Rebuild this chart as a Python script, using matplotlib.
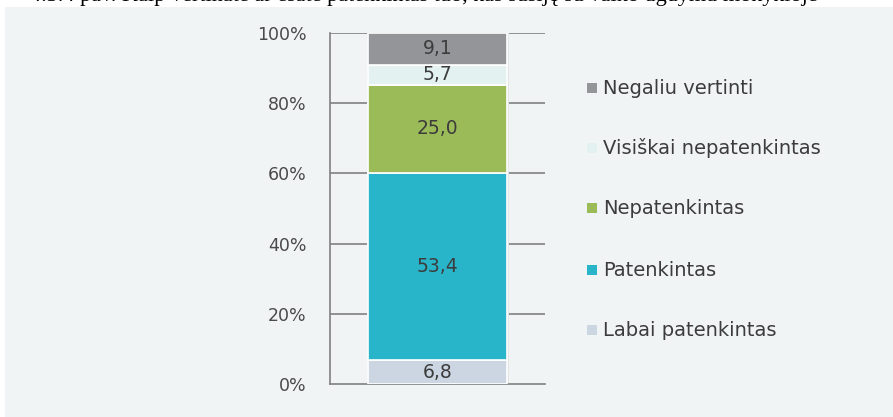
import matplotlib
matplotlib.use('Agg')
import matplotlib.pyplot as plt
from matplotlib.patches import Rectangle

# data (bottom -> top)
categories = ['Labai patenkintas', 'Patenkintas', 'Nepatenkintas',
              'Visiškai nepatenkintas', 'Negaliu vertinti']
values = [6.8, 53.4, 25.0, 5.7, 9.1]
labels = ['6,8', '53,4', '25,0', '5,7', '9,1']
colors = ['#cbd6e2', '#29b5c9', '#9bbb59', '#e4f1f1', '#939598']
yticks = [0, 20, 40, 60, 80, 100]
ytick_labels = ['0%', '20%', '40%', '60%', '80%', '100%']

W, H = 893, 417
bg = '#f1f4f5'
txt = '#3c3c3c'

fig = plt.figure(figsize=(W / 100, H / 100), dpi=100)
fig.patch.set_facecolor('white')

# grey panel behind the chart
fig.patches.append(Rectangle((5 / W, 0), 1, (H - 7) / H, transform=fig.transFigure,
                             facecolor=bg, edgecolor='none', zorder=-5))

# cut-off caption at the very top
fig.text(30 / W, 1 - 1 / H,
         '4.3.4 pav. Kaip vertinate ar esate patenkintas tuo, kas susiję su vaiko ugdymu mokykloje',
         family='Liberation Serif', fontsize=16, color='black', va='baseline', ha='left',
         zorder=-10)

ax = fig.add_axes([330 / W, (H - 384) / H, 215 / W, 351 / H])
ax.set_facecolor('none')
ax.set_xlim(-0.5, 0.5)
ax.set_ylim(0, 100)

for y in yticks[1:]:
    ax.axhline(y, color='#808080', lw=1.2, zorder=1)

# soft shadow behind bar
ax.bar(0.004, sum(values), width=0.66, color='#e2e5e6', zorder=2)

bottom = 0
for v, c, lab in zip(values, colors, labels):
    ax.bar(0, v, width=0.647, bottom=bottom, color=c, edgecolor='white',
           linewidth=1.2, zorder=3)
    ax.text(0, bottom + v / 2, lab, ha='center', va='center', fontsize=13.5,
            color=txt, zorder=4)
    bottom += v

for s in ['top', 'right']:
    ax.spines[s].set_visible(False)
for s in ['left', 'bottom']:
    ax.spines[s].set_color('#808080')
    ax.spines[s].set_linewidth(1.2)
ax.set_xticks([])
ax.set_yticks(yticks)
ax.set_yticklabels(ytick_labels, fontsize=12.5, color='#4a4a4a')
ax.tick_params(axis='y', length=0, pad=17)

# legend, top entry first
ys = [88, 148, 208, 270, 330]
for cat, c, y in zip(categories[::-1], colors[::-1], ys):
    fig.patches.append(Rectangle((587 / W, 1 - (y + 5) / H), 10 / W, 10 / H,
                                 transform=fig.transFigure, facecolor=c,
                                 edgecolor='none', zorder=3))
    fig.text(603 / W, 1 - y / H, cat, fontsize=14, color=txt, va='center', ha='left')

fig.savefig('out.png', dpi=100, facecolor=fig.get_facecolor())
